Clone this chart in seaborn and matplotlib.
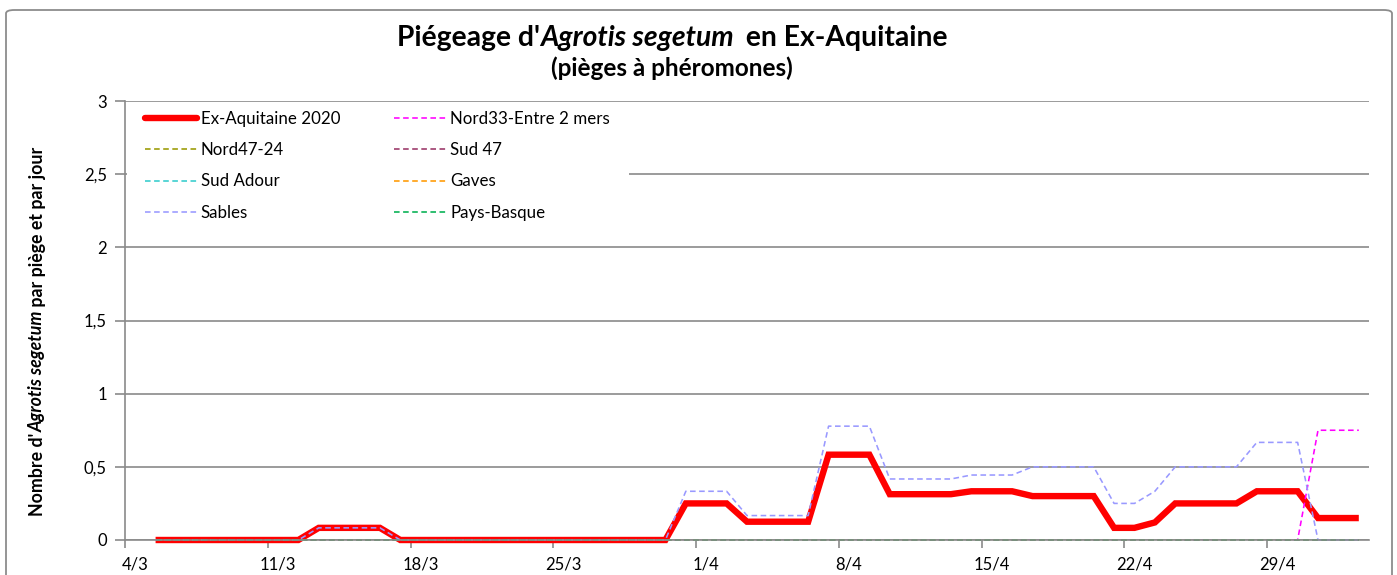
import numpy as np
import pandas as pd
import matplotlib
matplotlib.use("Agg")
import matplotlib.pyplot as plt
import matplotlib.dates as mdates
from matplotlib.patches import FancyBboxPatch, Rectangle
from matplotlib.lines import Line2D
import seaborn as sns

sns.set_theme(style="white")
plt.rcParams['font.family'] = ['Lato', 'DejaVu Sans']
plt.rcParams['text.color'] = 'black'

# ---------------- data ----------------
dates = pd.date_range("2020-03-05", "2020-05-03", freq="D")   # 60 days
tick_dates = pd.date_range("2020-03-04", "2020-04-29", freq="7D")
tick_labels = ["4/3", "11/3", "18/3", "25/3", "1/4", "8/4", "15/4", "22/4", "29/4"]
y_ticks = [0, 0.5, 1, 1.5, 2, 2.5, 3]
y_tick_labels = ["0", "0,5", "1", "1,5", "2", "2,5", "3"]

ex_aquitaine = [0, 0, 0, 0, 0, 0, 0, 0, 0.083, 0.083,
                0.083, 0.083, 0, 0, 0, 0, 0, 0, 0, 0,
                0, 0, 0, 0, 0, 0, 0.25, 0.25, 0.25, 0.125,
                0.125, 0.125, 0.125, 0.583, 0.583, 0.583, 0.313, 0.313, 0.313, 0.313,
                0.333, 0.333, 0.333, 0.30, 0.30, 0.30, 0.30, 0.083, 0.083, 0.12,
                0.25, 0.25, 0.25, 0.25, 0.333, 0.333, 0.333, 0.15, 0.15, 0.15]
nord33 = [0, 0, 0, 0, 0, 0, 0, 0, 0, 0,
          0, 0, 0, 0, 0, 0, 0, 0, 0, 0,
          0, 0, 0, 0, 0, 0, 0, 0, 0, 0,
          0, 0, 0, 0, 0, 0, 0, 0, 0, 0,
          0, 0, 0, 0, 0, 0, 0, 0, 0, 0,
          0, 0, 0, 0, 0, 0, 0, 0.75, 0.75, 0.75]
nord47_24 = [0, 0, 0, 0, 0, 0, 0, 0, 0, 0,
             0, 0, 0, 0, 0, 0, 0, 0, 0, 0,
             0, 0, 0, 0, 0, 0, 0, 0, 0, 0,
             0, 0, 0, 0, 0, 0, 0, 0, 0, 0,
             0, 0, 0, 0, 0, 0, 0, 0, 0, 0,
             0, 0, 0, 0, 0, 0, 0, 0, 0, 0]
sud47 = [0, 0, 0, 0, 0, 0, 0, 0, 0, 0,
         0, 0, 0, 0, 0, 0, 0, 0, 0, 0,
         0, 0, 0, 0, 0, 0, 0, 0, 0, 0,
         0, 0, 0, 0, 0, 0, 0, 0, 0, 0,
         0, 0, 0, 0, 0, 0, 0, 0, 0, 0,
         0, 0, 0, 0, 0, 0, 0, 0, 0, 0]
sud_adour = [0, 0, 0, 0, 0, 0, 0, 0, 0, 0,
             0, 0, 0, 0, 0, 0, 0, 0, 0, 0,
             0, 0, 0, 0, 0, 0, 0, 0, 0, 0,
             0, 0, 0, 0, 0, 0, 0, 0, 0, 0,
             0, 0, 0, 0, 0, 0, 0, 0, 0, 0,
             0, 0, 0, 0, 0, 0, 0, 0, 0, 0]
gaves = [0, 0, 0, 0, 0, 0, 0, 0, 0, 0,
         0, 0, 0, 0, 0, 0, 0, 0, 0, 0,
         0, 0, 0, 0, 0, 0, 0, 0, 0, 0,
         0, 0, 0, 0, 0, 0, 0, 0, 0, 0,
         0, 0, 0, 0, 0, 0, 0, 0, 0, 0,
         0, 0, 0, 0, 0, 0, 0, 0, 0, 0]
sables = [0, 0, 0, 0, 0, 0, 0, 0, 0.083, 0.083,
          0.083, 0.083, 0, 0, 0, 0, 0, 0, 0, 0,
          0, 0, 0, 0, 0, 0, 0.333, 0.333, 0.333, 0.167,
          0.167, 0.167, 0.167, 0.778, 0.778, 0.778, 0.417, 0.417, 0.417, 0.417,
          0.444, 0.444, 0.444, 0.5, 0.5, 0.5, 0.5, 0.25, 0.25, 0.333,
          0.5, 0.5, 0.5, 0.5, 0.667, 0.667, 0.667, 0, 0, 0]
pays_basque = [0, 0, 0, 0, 0, 0, 0, 0, 0, 0,
               0, 0, 0, 0, 0, 0, 0, 0, 0, 0,
               0, 0, 0, 0, 0, 0, 0, 0, 0, 0,
               0, 0, 0, 0, 0, 0, 0, 0, 0, 0,
               0, 0, 0, 0, 0, 0, 0, 0, 0, 0,
               0, 0, 0, 0, 0, 0, 0, 0, 0, 0]

series_names = ["Ex-Aquitaine 2020", "Nord33-Entre 2 mers", "Nord47-24", "Sud 47",
                "Sud Adour", "Gaves", "Sables", "Pays-Basque"]
series_values = [ex_aquitaine, nord33, nord47_24, sud47, sud_adour, gaves, sables, pays_basque]
series_colors = ["#FF0000", "#FF00FF", "#999900", "#993366",
                 "#33CCCC", "#FF9900", "#9999FF", "#00B050"]

# ---------------- figure ----------------
W, H = 1397, 575
fig = plt.figure(figsize=(W / 100, H / 100), dpi=100)
fig.patch.set_facecolor("white")

# chart border (rounded, cut at bottom)
border = FancyBboxPatch((6 / W, -0.05), (1392 - 6) / W, (H - 10) / H + 0.05,
                        boxstyle="round,pad=0,rounding_size=0.006",
                        transform=fig.transFigure, fill=False,
                        edgecolor="#8C8C8C", linewidth=1.3)
fig.patches.append(border)

left, right, top, bottom = 125, 1369, 101, 540
ax = fig.add_axes([left / W, (H - bottom) / H, (right - left) / W, (bottom - top) / H])
ax.set_facecolor("white")

x_num = mdates.date2num(dates) + 0.5   # Excel: points centred in each day slot
DASH = (0, (3.5, 2.2))
handles = {}
for i, (name, vals, col) in enumerate(zip(series_names, series_values, series_colors)):
    if i == 0:
        sns.lineplot(x=x_num, y=vals, ax=ax, color=col, linewidth=4.6, zorder=3,
                     solid_joinstyle="miter", solid_capstyle="butt")
    else:
        sns.lineplot(x=x_num, y=vals, ax=ax, color=col, linewidth=1.15, zorder=3 + i,
                     linestyle=DASH)
    ln = ax.get_lines()[-1]
    ln.set_clip_on(False)
    handles[name] = Line2D([0], [0], color=col,
                           linewidth=4.6 if i == 0 else 1.15,
                           linestyle="-" if i == 0 else DASH)

x0 = mdates.date2num(pd.Timestamp("2020-03-04"))
x1 = mdates.date2num(pd.Timestamp("2020-05-04"))
ax.set_xlim(x0, x1)
ax.set_ylim(0, 3)

# y axis
ax.set_yticks(y_ticks)
ax.set_yticklabels(y_tick_labels)
ax.yaxis.grid(True, color="#8A8A8A", linewidth=1.2)
ax.set_axisbelow(True)

# x axis: tick marks on week boundaries, labels centred on the day
tick_num = mdates.date2num(tick_dates)
ax.set_xticks(tick_num + 0.5)
ax.set_xticklabels(tick_labels)
ax.set_xticks(tick_num, minor=True)
ax.tick_params(axis="x", which="major", length=0, pad=12, labelsize=12, labelcolor="black")
ax.tick_params(axis="x", which="minor", length=6, width=1.2, color="#8A8A8A", direction="out", bottom=True)
ax.tick_params(axis="y", which="major", length=7, width=1.2, color="#8A8A8A", direction="out",
               pad=6, labelsize=12, labelcolor="black", left=True)

for s in ["top", "right"]:
    ax.spines[s].set_visible(False)
for s in ["left", "bottom"]:
    ax.spines[s].set_color("#8A8A8A")
    ax.spines[s].set_linewidth(1.2)
    ax.spines[s].set_zorder(30)
ax.set_xlabel("")
ax.set_ylabel("")

# white legend area hiding the gridline behind it
ax.add_patch(Rectangle((0.002, 2.3), (628 - 126) / (right - left), 0.68,
                       transform=ax.get_yaxis_transform(), facecolor="white",
                       edgecolor="none", zorder=2))

# legend (column-major in matplotlib -> reorder for row-major look)
order = ["Ex-Aquitaine 2020", "Nord47-24", "Sud Adour", "Sables",
         "Nord33-Entre 2 mers", "Sud 47", "Gaves", "Pays-Basque"]
leg = ax.legend([handles[n] for n in order], order, ncol=2, loc="upper left",
                bbox_to_anchor=((145 - left) / (right - left), (bottom - 111) / (bottom - top)),
                frameon=False, fontsize=12.2,
                handlelength=3.05, handletextpad=0.24, columnspacing=3.2,
                labelspacing=0.9, borderpad=0.0, borderaxespad=0.0)
leg.set_zorder(20)

# ---------------- title with italic species name ----------------
TFS = 20.3
ty = (H - 46) / H
t1 = fig.text(0.3, ty, "Piégeage d'", fontsize=TFS, fontweight="bold", ha="left", va="baseline")
t2 = ax.annotate("Agrotis segetum", xy=(1, ty), xycoords=(t1, "figure fraction"),
                 fontsize=TFS, fontweight="bold", style="italic", ha="left", va="baseline",
                 annotation_clip=False, color="black")
t3 = ax.annotate(" en Ex-Aquitaine", xy=(1, ty), xycoords=(t2, "figure fraction"),
                 xytext=(4, 0), textcoords="offset points",
                 fontsize=TFS, fontweight="bold", ha="left", va="baseline",
                 annotation_clip=False, color="black")
fig.text(672 / W, (H - 76) / H, "(pièges à phéromones)", fontsize=17.5, fontweight="bold",
         ha="center", va="baseline")

# ---------------- y label with italic species name ----------------
YFS = 12.8
yx = 43 / W
y1 = fig.text(yx, 0.2, "Nombre d'", fontsize=YFS, fontweight="bold", rotation=90,
              rotation_mode="anchor", ha="left", va="baseline")
y2 = ax.annotate("Agrotis segetum", xy=(yx, 1), xycoords=("figure fraction", y1),
                 fontsize=YFS, fontweight="bold", style="italic", rotation=90,
                 rotation_mode="anchor", ha="left", va="baseline", annotation_clip=False,
                 color="black")
y3 = ax.annotate(" par piège et par jour", xy=(yx, 1), xycoords=("figure fraction", y2),
                 fontsize=YFS, fontweight="bold", rotation=90,
                 rotation_mode="anchor", ha="left", va="baseline", annotation_clip=False,
                 color="black")

# centre the composite texts
fig.canvas.draw()
r = fig.canvas.get_renderer()
b1 = t1.get_window_extent(r); b3 = t3.get_window_extent(r)
width = b3.x1 - b1.x0
t1.set_x((672 - width / 2) / W)
c1 = y1.get_window_extent(r); c3 = y3.get_window_extent(r)
height = c3.y1 - c1.y0
target_center = H - 331
y1.set_y((target_center - height / 2) / H)

fig.savefig("out.png", dpi=100, facecolor="white")
